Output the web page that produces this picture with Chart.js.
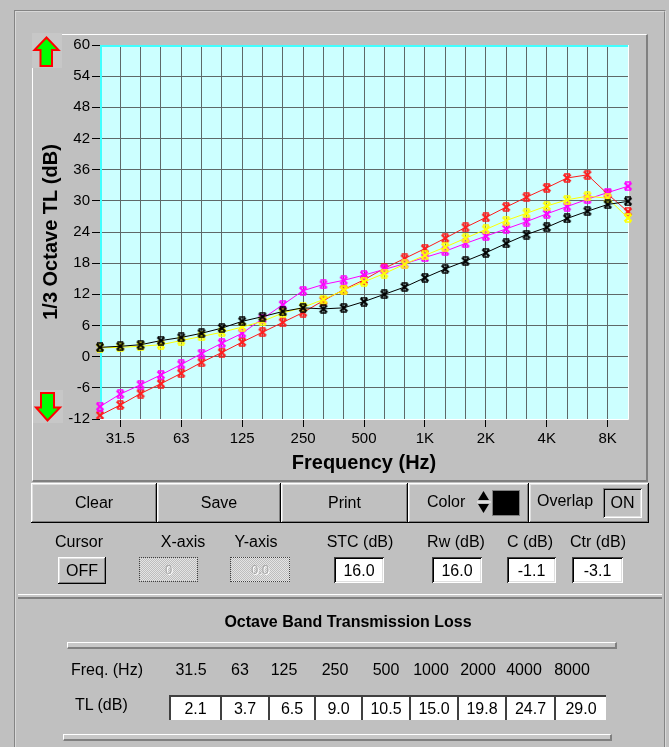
<!DOCTYPE html>
<html>
<head>
<meta charset="utf-8">
<script src="https://cdn.jsdelivr.net/npm/chart.js@4.4.0/dist/chart.umd.min.js"></script>
<style>
  body { margin:0; width:669px; height:747px; overflow:hidden; background:#c0c0c0;
         font-family:'Liberation Sans', Arial, sans-serif; font-size:16px; color:#000; position:relative; }
  .abs { position:absolute; box-sizing:border-box; }
  .groove { border:2px groove #d8d8d8; }
  .panel { border-top:1px solid #fff; border-left:1px solid #fff; border-right:2px solid #808080; border-bottom:2px solid #808080; }
  .btn { box-shadow: inset -1px -1px #000, inset 1px 1px #fff, inset -2px -2px #808080, inset 2px 2px #dfdfdf; text-align:center; }
  .sunken { background:#fff; box-shadow: inset 1px 1px #404040, inset -1px -1px #fff, inset 2px 2px #000, inset -2px -2px #dfdfdf; text-align:center; }
  .gray-sunken { box-shadow: inset 1px 1px #808080, inset -1px -1px #fff, inset 2px 2px #000, inset -2px -2px #dfdfdf; text-align:center; }
  .off { border:1px dotted #404040; text-align:center; color:#a8a8a8; text-shadow:1px 1px #fff;
         background-image: repeating-conic-gradient(#bdbdbd 0 25%, #e4e4e4 0 50%); background-size:2px 2px; }
  .lbl { text-align:center; white-space:nowrap; }
  .bar { background:#c8c8c8; border-top:1px solid #fff; border-left:1px solid #fff; border-bottom:2px solid #808080; border-right:2px solid #808080; }
  .tlbox { background:#fff; border-top:2px solid #404040; border-left:2px solid #404040; text-align:center; }
</style>
</head>
<body>
<div class="abs groove" style="left:14px;top:10px;width:652px;height:760px;"></div>
<div class="abs panel" style="left:32px;top:34px;width:616px;height:448px;"></div>
<canvas id="tlChart" class="abs" width="616" height="448" style="left:32px;top:34px;width:616px;height:448px;"></canvas>

<div class="abs" style="left:32px;top:33px;width:30px;height:35px;background:#c7c7c7;"></div>
<div class="abs" style="left:33px;top:390px;width:30px;height:33px;background:#c7c7c7;"></div>
<svg class="abs" style="left:0;top:0;" width="669" height="747">
  <polygon points="46.5,37.5 58.5,50 52,50 52,66 40.5,66 40.5,50 34.5,50" fill="#00ff00" stroke="#ff0000" stroke-width="2"/>
  <polygon points="41,393 54,393 54,407.5 60,407.5 47.5,420.5 36,407.5 41,407.5" fill="#00ff00" stroke="#ff0000" stroke-width="2"/>
</svg>

<div class="abs btn" style="left:31px;top:483px;width:126px;height:40px;line-height:40px;">Clear</div>
<div class="abs btn" style="left:157px;top:483px;width:124px;height:40px;line-height:40px;">Save</div>
<div class="abs btn" style="left:281px;top:483px;width:127px;height:40px;line-height:40px;">Print</div>
<div class="abs btn" style="left:408px;top:483px;width:121px;height:40px;"></div>
<div class="abs" style="left:427px;top:483px;height:38px;line-height:38px;">Color</div>
<svg class="abs" style="left:477px;top:489px;" width="14" height="28">
  <polygon points="1,11 6.5,2 12,11" fill="#000"/>
  <polygon points="1,15 6.5,24 12,15" fill="#000"/>
  <line x1="0" y1="13" x2="14" y2="13" stroke="#fff" stroke-width="1"/>
</svg>
<div class="abs" style="left:492px;top:490px;width:28px;height:26px;background:#000;border:1px solid #808080;"></div>
<div class="abs btn" style="left:529px;top:483px;width:120px;height:40px;"></div>
<div class="abs" style="left:537px;top:483px;height:36px;line-height:36px;">Overlap</div>
<div class="abs gray-sunken" style="left:603px;top:488px;width:39px;height:30px;line-height:30px;">ON</div>

<div id="ratingLabels"></div>
<div class="abs btn" style="left:58px;top:557px;width:48px;height:27px;line-height:27px;">OFF</div>
<div class="abs off" style="left:139px;top:557px;width:59px;height:25px;line-height:24px;font-size:13px;">0</div>
<div class="abs off" style="left:230px;top:557px;width:60px;height:25px;line-height:24px;font-size:13px;">0.0</div>
<div id="ratingBoxes"></div>

<div class="abs" style="left:18px;top:594px;width:644px;height:5px;background:#c8c8c8;border-top:1px solid #fff;border-bottom:2px solid #808080;"></div>
<div class="abs lbl" style="left:148px;top:611px;width:400px;line-height:22px;font-weight:bold;">Octave Band Transmission Loss</div>
<div class="abs bar" style="left:67px;top:642px;width:550px;height:7px;"></div>
<div class="abs" style="left:71px;top:659px;line-height:22px;">Freq. (Hz)</div>
<div class="abs" style="left:75px;top:694px;line-height:22px;">TL (dB)</div>
<div id="octaveRow"></div>
<div class="abs bar" style="left:63px;top:734px;width:549px;height:7px;"></div>

<script>
// third-octave bands shown on the x axis (25 Hz .. 10 kHz)
const bands = ['25', '31.5', '40', '50', '63', '80', '100', '125', '160', '200', '250', '315', '400', '500',
               '630', '800', '1K', '1.25K', '1.6K', '2K', '2.5K', '3.15K', '4K', '5K', '6.3K', '8K', '10K'];
const xTickLabels = ['31.5', '63', '125', '250', '500', '1K', '2K', '4K', '8K'];

// 1/3 octave TL curves (dB)
const tlBlack   = [1.8, 2.0, 2.3, 3.1, 3.7, 4.5, 5.5, 6.8, 7.7, 8.7, 9.4, 9.2, 9.4, 10.6, 12.0, 13.4, 15.2, 16.9, 18.4, 20.0, 21.8, 23.5, 24.9, 26.6, 28.0, 29.3, 29.9];
const tlYellow  = [1.7, 1.8, 2.0, 2.3, 3.1, 3.9, 4.7, 5.7, 6.8, 8.4, 9.5, 11.0, 12.8, 14.4, 16.0, 17.8, 19.5, 21.1, 22.8, 24.5, 26.2, 27.6, 29.0, 30.2, 30.9, 30.5, 26.7];
const tlMagenta = [-9.6, -7.2, -5.4, -3.5, -1.5, 0.6, 2.6, 4.5, 7.3, 10.0, 12.7, 13.9, 14.7, 15.7, 16.8, 17.9, 19.1, 20.3, 21.8, 23.2, 24.6, 26.0, 27.5, 28.9, 30.3, 31.6, 32.8];
const tlRed     = [-11.3, -9.3, -7.1, -5.2, -3.2, -1.1, 0.8, 2.8, 4.7, 6.6, 8.5, 10.8, 12.9, 14.8, 17.0, 18.9, 20.8, 22.8, 24.9, 26.8, 28.8, 30.7, 32.5, 34.4, 35.0, 31.3, 27.9];

// octave band summary
const octaveFreqs = ['31.5', '63', '125', '250', '500', '1000', '2000', '4000', '8000'];
const octaveTL = ['2.1', '3.7', '6.5', '9.0', '10.5', '15.0', '19.8', '24.7', '29.0'];

// single number ratings
const ratingNames = ['STC (dB)', 'Rw (dB)', 'C (dB)', 'Ctr (dB)'];
const ratingValues = ['16.0', '16.0', '-1.1', '-3.1'];

const FONT = "'Liberation Sans', Arial, sans-serif";

// labels above the controls
const labelRow = [['Cursor', 79], ['X-axis', 183], ['Y-axis', 256]];
const ratingLeft = [334, 432, 507, 572];
const ratingWidth = [50, 50, 49, 51];
const ratingLabelX = [360, 456, 530, 598];
let html = '';
labelRow.forEach(l => {
    html += '<div class="abs lbl" style="left:' + (l[1] - 50) + 'px;top:531px;width:100px;line-height:22px;">' + l[0] + '</div>';
});
ratingNames.forEach((n, i) => {
    html += '<div class="abs lbl" style="left:' + (ratingLabelX[i] - 50) + 'px;top:531px;width:100px;line-height:22px;">' + n + '</div>';
});
document.getElementById('ratingLabels').innerHTML = html;

html = '';
ratingValues.forEach((v, i) => {
    html += '<div class="abs sunken" style="left:' + ratingLeft[i] + 'px;top:557px;width:' + ratingWidth[i] +
            'px;height:26px;line-height:27px;">' + v + '</div>';
});
document.getElementById('ratingBoxes').innerHTML = html;

// octave band row
const boxEdges = [169, 220, 268, 314, 361, 409, 457, 505, 554, 606];
const freqCenters = [191, 240, 284, 335, 386, 431, 478, 524, 572];
html = '';
octaveFreqs.forEach((f, i) => {
    html += '<div class="abs lbl" style="left:' + (freqCenters[i] - 30) + 'px;top:659px;width:60px;line-height:22px;">' + f + '</div>';
});
octaveTL.forEach((v, i) => {
    html += '<div class="abs tlbox" style="left:' + boxEdges[i] + 'px;top:695px;width:' + (boxEdges[i + 1] - boxEdges[i]) +
            'px;height:25px;line-height:24px;">' + v + '</div>';
});
document.getElementById('octaveRow').innerHTML = html;

// the small hourglass-cross marker used by the program
function makeMarker(color) {
    const c = document.createElement('canvas');
    c.width = 10; c.height = 10;
    const g = c.getContext('2d');
    g.strokeStyle = color;
    g.lineWidth = 2.2;
    g.beginPath();
    g.moveTo(1.5, 1.5); g.lineTo(8.5, 8.5);
    g.moveTo(8.5, 1.5); g.lineTo(1.5, 8.5);
    g.stroke();
    g.lineWidth = 1.5;
    g.beginPath();
    g.moveTo(2, 1); g.lineTo(8, 1);
    g.moveTo(2, 9); g.lineTo(8, 9);
    g.stroke();
    return c;
}

const plotFrame = {
    id: 'plotFrame',
    beforeDraw(chart) {
        const { ctx, chartArea: a } = chart;
        ctx.save();
        ctx.fillStyle = '#ccffff';
        ctx.fillRect(a.left, a.top, a.right - a.left, a.bottom - a.top);
        ctx.restore();
    },
    beforeDatasetsDraw(chart) {
        const { ctx, chartArea: a } = chart;
        ctx.save();
        ctx.lineWidth = 2;
        ctx.strokeStyle = '#40ffff';
        ctx.beginPath();
        ctx.moveTo(a.left + 1, a.bottom);
        ctx.lineTo(a.left + 1, a.top + 1);
        ctx.lineTo(a.right, a.top + 1);
        ctx.stroke();
        ctx.lineWidth = 1;
        ctx.strokeStyle = '#ffffff';
        ctx.beginPath();
        ctx.moveTo(a.right + 0.5, a.top);
        ctx.lineTo(a.right + 0.5, a.bottom + 0.5);
        ctx.lineTo(a.left, a.bottom + 0.5);
        ctx.stroke();
        ctx.restore();
    }
};

function series(data, color) {
    return {
        data: data,
        borderColor: color,
        borderWidth: 1,
        pointStyle: makeMarker(color),
        pointRadius: 5,
        fill: false,
        tension: 0
    };
}

new Chart(document.getElementById('tlChart'), {
    type: 'line',
    data: {
        labels: bands,
        datasets: [
            series(tlBlack, '#000000'),
            series(tlYellow, '#ffff00'),
            series(tlMagenta, '#ff00ff'),
            series(tlRed, '#ff1a1a')
        ]
    },
    options: {
        responsive: false,
        animation: false,
        layout: { padding: { top: 10, right: 20, left: 0, bottom: 0 } },
        plugins: { legend: { display: false }, tooltip: { enabled: false } },
        scales: {
            x: {
                offset: false,
                border: { display: false },
                grid: {
                    color: '#5e6868',
                    tickLength: 8,
                    tickColor: ctx => xTickLabels.includes(bands[ctx.index]) ? '#000' : 'rgba(0,0,0,0)'
                },
                ticks: {
                    autoSkip: false,
                    maxRotation: 0,
                    padding: 3,
                    color: '#000',
                    font: { family: FONT, size: 15 },
                    callback: (v, i) => xTickLabels.includes(bands[i]) ? bands[i] : ''
                },
                title: {
                    display: true,
                    text: 'Frequency (Hz)',
                    color: '#000',
                    font: { family: FONT, size: 20, weight: 'bold' },
                    padding: { top: 0, bottom: 7 }
                },
                afterFit(s) { s.height = 63; }
            },
            y: {
                min: -12,
                max: 60,
                border: { display: false },
                grid: { color: '#5e6868', tickLength: 8, tickColor: '#000' },
                ticks: {
                    stepSize: 6,
                    padding: 2,
                    color: '#000',
                    font: { family: FONT, size: 15 }
                },
                title: {
                    display: true,
                    text: '1/3 Octave TL (dB)',
                    color: '#000',
                    font: { family: FONT, size: 20, weight: 'bold' },
                    padding: { top: 7, bottom: 0 }
                },
                afterFit(s) { s.width = 68; }
            }
        }
    },
    plugins: [plotFrame]
});
</script>
</body>
</html>
